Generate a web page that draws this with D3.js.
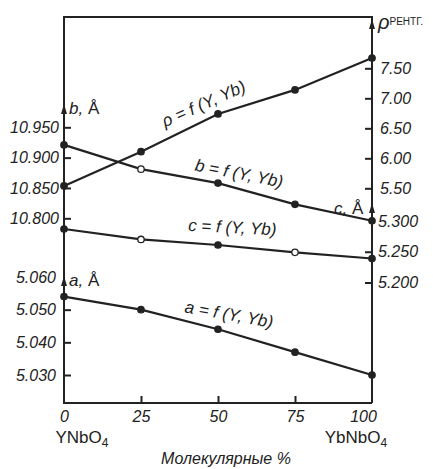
<!DOCTYPE html>
<html>
<head>
<meta charset="utf-8">
<script src="https://cdn.jsdelivr.net/npm/d3@7"></script>
<style>
  body { margin: 0; background: #fff; }
  svg { display: block; }
  text { fill: #222; font-family: "Liberation Sans", Arial, sans-serif; }
</style>
</head>
<body>
<svg id="chart" width="433" height="469"></svg>
<script>
// molecular % of YbNbO4 in YNbO4
var molPct = [0, 25, 50, 75, 100];
var rhoVals = [5.54, 6.11, 6.74, 7.14, 7.67];        // X-ray density
var bVals = [10.921, 10.881, 10.858, 10.823, 10.796]; // b, A
var cVals = [5.287, 5.270, 5.261, 5.249, 5.239];      // c, A
var aVals = [5.054, 5.050, 5.044, 5.037, 5.030];      // a, A

var xTicks = [0, 25, 50, 75, 100];
var bTicks = [10.800, 10.850, 10.900, 10.950];
var aTicks = [5.030, 5.040, 5.050, 5.060];
var rhoTicks = [5.50, 6.00, 6.50, 7.00, 7.50];
var cTicks = [5.200, 5.250, 5.300];

var svg = d3.select("#chart");
var ink = "#222";

// plot box (window.top is reserved, so not "top")
var boxL = 64, boxR = 372, boxT = 17, boxB = 403;
var tickLen = 7;

var x = d3.scaleLinear().domain([0, 100]).range([boxL, boxR]);
var yb = d3.scaleLinear().domain([10.800, 10.950]).range([218.3, 127.3]);
var ya = d3.scaleLinear().domain([5.030, 5.060]).range([375, 277]);
var yrho = d3.scaleLinear().domain([6.00, 7.50]).range([158.3, 68.3]);
var yc = d3.scaleLinear().domain([5.200, 5.300]).range([282.5, 221]);

// frame
svg.append("path")
  .attr("d", "M" + boxR + "," + boxB + "V" + boxT + "H" + boxL + "V" + boxB + "H" + boxR)
  .attr("fill", "none").attr("stroke", ink).attr("stroke-width", 2);

function styleAxis(g) {
  g.select(".domain").remove();
  g.selectAll(".tick line")
    .attr("stroke", ink)
    .attr("stroke-width", 2);
  g.selectAll("text")
    .attr("font-family", "'Liberation Sans', Arial, sans-serif")
    .attr("font-style", "italic")
    .attr("font-size", 16)
    .attr("fill", ink);
}

// axes: ticks point into the plot
var gb = svg.append("g").attr("transform", "translate(" + boxL + ",0)")
  .call(d3.axisLeft(yb).tickValues(bTicks).tickFormat(d3.format(".3f")).tickSizeInner(-tickLen).tickSizeOuter(0).tickPadding(5))
  .call(styleAxis);

var ga = svg.append("g").attr("transform", "translate(" + boxL + ",0)")
  .call(d3.axisLeft(ya).tickValues(aTicks).tickFormat(d3.format(".3f")).tickSizeInner(-tickLen).tickSizeOuter(0).tickPadding(8))
  .call(styleAxis);
ga.selectAll(".tick").filter(function(d) { return d === 5.060; }).select("line").remove();

var gr = svg.append("g").attr("transform", "translate(" + boxR + ",0)")
  .call(d3.axisRight(yrho).tickValues(rhoTicks).tickFormat(d3.format(".2f")).tickSizeInner(-tickLen).tickSizeOuter(0).tickPadding(8))
  .call(styleAxis);

var gc = svg.append("g").attr("transform", "translate(" + boxR + ",0)")
  .call(d3.axisRight(yc).tickValues(cTicks).tickFormat(d3.format(".3f")).tickSizeInner(-tickLen).tickSizeOuter(0).tickPadding(6))
  .call(styleAxis);
gc.selectAll(".tick").filter(function(d) { return d === 5.300; }).select("line").remove();

var xAxis = svg.append("g").attr("transform", "translate(0," + boxB + ")")
  .call(d3.axisBottom(x).tickValues(xTicks).tickSizeInner(-tickLen).tickSizeOuter(0).tickPadding(8))
  .call(styleAxis);
xAxis.selectAll(".tick").filter(function(d) { return d === 0 || d === 100; }).select("line").remove();
xAxis.selectAll(".tick").filter(function(d) { return d === 100; }).select("text").attr("dx", -9);

// arrows on the axes
function arrow(px, py) {
  svg.append("path")
    .attr("d", "M" + (px - 3) + "," + (py + 10) + "L" + px + "," + py + "L" + (px + 3) + "," + (py + 10) + "Z")
    .attr("fill", ink);
}
arrow(boxL, 104);
arrow(boxL, 276);
arrow(boxR, 19);
arrow(boxR, 203);

// axis names
function axisName(tx, ty, letter) {
  var t = svg.append("text").attr("x", tx).attr("y", ty).attr("font-size", 17);
  t.append("tspan").attr("font-style", "italic").text(letter + ", ");
  t.append("tspan").text("Å");
}
axisName(69, 114, "b");
axisName(69, 286, "a");
axisName(334, 214, "c");

var rl = svg.append("text").attr("x", 378).attr("y", 29);
rl.append("tspan").attr("font-style", "italic").attr("font-size", 20).text("ρ");
rl.append("tspan").attr("font-size", 10).attr("dy", -4).text("РЕНТГ.");

// series
var series = [
  { vals: rhoVals, y: yrho, open: [] },
  { vals: bVals, y: yb, open: [1] },
  { vals: cVals, y: yc, open: [1, 3] },
  { vals: aVals, y: ya, open: [] }
];

series.forEach(function(s) {
  var line = d3.line()
    .x(function(d, i) { return x(molPct[i]); })
    .y(function(d) { return s.y(d); });
  svg.append("path").datum(s.vals)
    .attr("d", line)
    .attr("fill", "none").attr("stroke", ink).attr("stroke-width", 2.2);
  svg.selectAll(null).data(s.vals).enter().append("circle")
    .attr("cx", function(d, i) { return x(molPct[i]); })
    .attr("cy", function(d) { return s.y(d); })
    .attr("r", 3.2)
    .attr("fill", function(d, i) { return s.open.indexOf(i) >= 0 ? "#fff" : ink; })
    .attr("stroke", ink).attr("stroke-width", 1.3);
});

// curve labels
function curveLabel(cx, cy, angle, letter) {
  svg.append("text")
    .attr("transform", "translate(" + cx + "," + cy + ") rotate(" + angle + ")")
    .attr("text-anchor", "middle").attr("font-style", "italic").attr("font-size", 17)
    .text(letter + " = f (Y, Yb)");
}
curveLabel(206, 109, -24, "ρ");
curveLabel(238, 179, 11, "b");
curveLabel(232, 233, 3, "c");
curveLabel(228, 320, 10, "a");

// bottom texts
function formula(tx, ty, parts) {
  var t = svg.append("text").attr("x", tx).attr("y", ty).attr("text-anchor", "middle").attr("font-size", 17);
  t.append("tspan").text(parts);
  t.append("tspan").attr("font-size", 12).attr("dy", 4).text("4");
}
formula(82, 443, "YNbO");
formula(356, 443, "YbNbO");

svg.append("text").attr("x", 226).attr("y", 464)
  .attr("text-anchor", "middle").attr("font-style", "italic").attr("font-size", 16)
  .text("Молекулярные %");
</script>
</body>
</html>
